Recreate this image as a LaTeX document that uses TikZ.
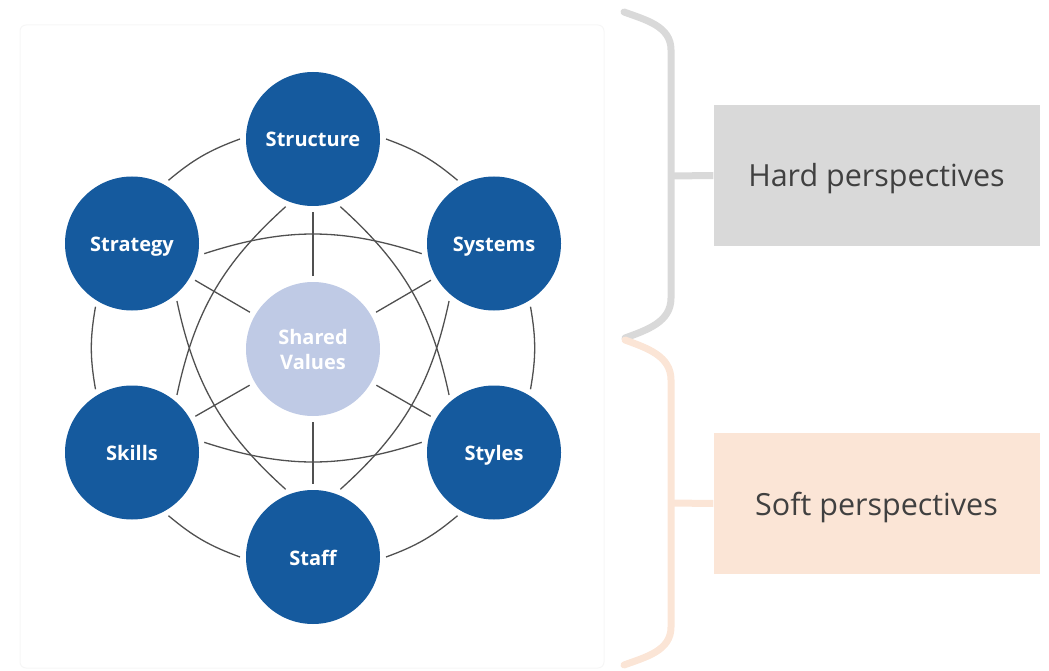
\documentclass[tikz,border=0pt]{standalone}
\usepackage{fontspec}
\setmainfont{Open Sans}
\usepackage{tikz}
\usetikzlibrary{shapes, arrows.meta, positioning, calc}
\definecolor{sevenblue}{RGB}{21,90,158}
\definecolor{hubblue}{RGB}{191,202,229}
\definecolor{linkgray}{RGB}{80,80,80}
\definecolor{hardgray}{RGB}{217,217,217}
\definecolor{softpeach}{RGB}{251,229,214}
\definecolor{textgray}{RGB}{64,64,64}
\definecolor{framegray}{RGB}{246,246,246}

\begin{document}
\begin{tikzpicture}[x=1pt, y=1pt,
    circ/.style={circle, fill=sevenblue, text=white, minimum size=134pt, inner sep=0pt, outer sep=6pt, align=center, font=\fontsize{20}{25}\selectfont\bfseries},
    sbox/.style={circ, text height=18pt, text depth=2pt},
    link/.style={draw=linkgray, line width=1.3pt},
    pbox/.style={minimum width=326pt, minimum height=141pt, inner sep=0pt, text height=26pt, text depth=3pt, text=textgray, font=\fontsize{30.5}{36}\selectfont},
    brace/.style={line width=7pt, line cap=round}]
             \useasboundingbox (0,0) rectangle (1049,-671);
             \draw [framegray, line width=1pt, rounded corners=6pt](20,-25) rectangle (604,-668);
             % the seven circles
             \node [circ, fill=hubblue](hub) at (313,-349){Shared\\Values};
             \node [sbox](structure) at (313,-139){Structure};
             \node [sbox](strategy) at (132,-243.5){Strategy};
             \node [sbox](systems) at (494,-243.5){Systems};
             \node [sbox](skills) at (132,-452.5){Skills};
             \node [sbox](styles) at (494,-452.5){Styles};
             \node [sbox](staff) at (313,-557){Staff};
             % spokes
             \foreach \s in {structure, strategy, systems, skills, styles, staff}
                 \draw [link](hub) -- (\s);
             % outer ring
             \draw [link](structure.180) to[bend right=10] (strategy.60);
             \draw [link](strategy.240) to[bend right=10] (skills.120);
             \draw [link](skills.300) to[bend right=10] (staff.180);
             \draw [link](staff.0) to[bend right=10] (styles.240);
             \draw [link](styles.60) to[bend right=10] (systems.300);
             \draw [link](systems.120) to[bend right=10] (structure.0);
             % cross arcs
             \draw [link](systems.188) to[bend right=18] (strategy.352);
             \draw [link](structure.248) to[bend right=18] (skills.52);
             \draw [link](strategy.308) to[bend right=18] (staff.112);
             \draw [link](skills.8) to[bend right=18] (styles.172);
             \draw [link](staff.68) to[bend right=18] (systems.232);
             \draw [link](styles.128) to[bend right=18] (structure.292);
             % perspectives
             \node [pbox, fill=hardgray](hard) at (876.5,-175.5){Hard perspectives};
             \node [pbox, fill=softpeach](soft) at (876.5,-503.5){Soft perspectives};
             \draw [brace, hardgray](624,-12) to[out=-20, in=90] (671,-50) -- (671,-298) to[out=-90, in=20] (625,-338);
             \draw [brace, softpeach](625,-340) to[out=-20, in=90] (671,-380) -- (671,-627) to[out=-90, in=20] (624,-665);
             \coordinate (hardmid) at (671,-176);
             \coordinate (softmid) at (671,-503);
             \draw [hardgray, line width=7pt](hardmid) -- (hard.west);
             \draw [softpeach, line width=7pt](softmid) -- (soft.west);
         \end{tikzpicture}
\end{document}
